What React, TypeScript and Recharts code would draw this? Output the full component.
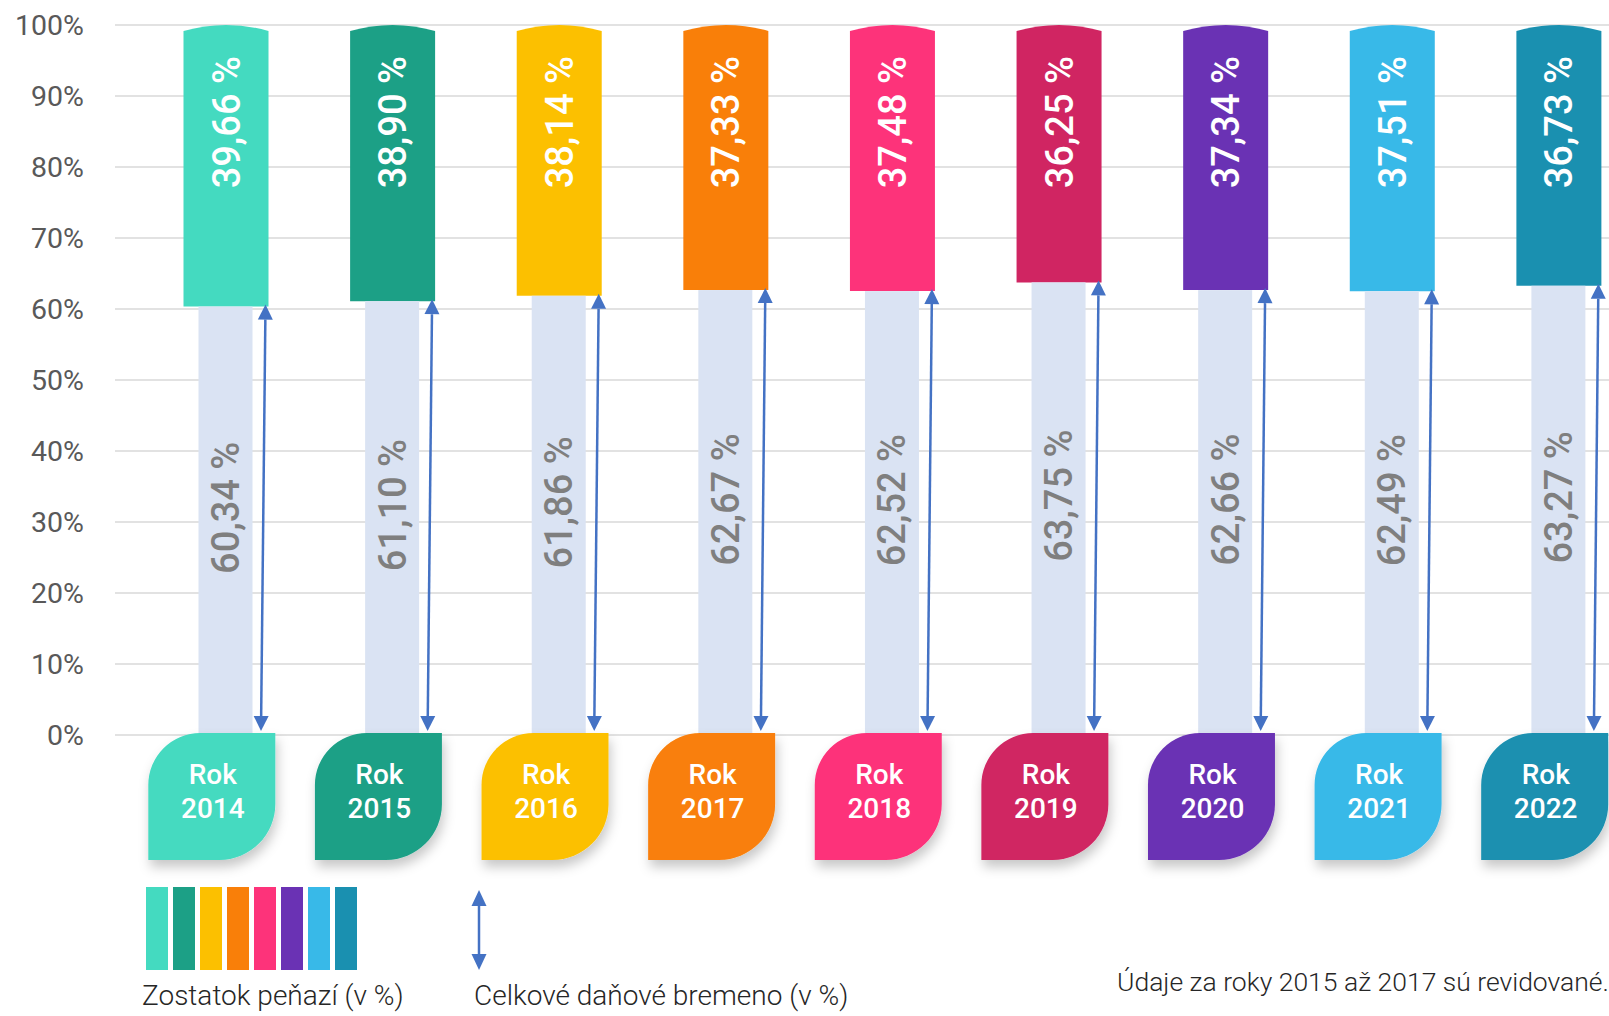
import { BarChart, Bar, XAxis, YAxis, CartesianGrid, LabelList, Cell } from 'recharts';

// values (in %)
const years = ['2014', '2015', '2016', '2017', '2018', '2019', '2020', '2021', '2022'];
const zostatok = [39.66, 38.9, 38.14, 37.33, 37.48, 36.25, 37.34, 37.51, 36.73];
const bremeno = [60.34, 61.1, 61.86, 62.67, 62.52, 63.75, 62.66, 62.49, 63.27];
const yearColors = ['#44dac0', '#1ca086', '#fcc000', '#f97f09', '#fd337a', '#d02562', '#6a32b4', '#38b9e8', '#1a90b0'];
// the legend swatch strip skips the 2019 colour
const legendColors = ['#44dac0', '#1ca086', '#fcc000', '#f97f09', '#fd337a', '#6a32b4', '#38b9e8', '#1a90b0'];
const yTicks = [0, 10, 20, 30, 40, 50, 60, 70, 80, 90, 100];

const ARROW = '#4472c4';
const GRAY_BAR = '#dae3f3';

const data = years.map((year, i) => ({
  year,
  bremeno: bremeno[i],
  zostatok: zostatok[i],
  range: [bremeno[i], bremeno[i] + zostatok[i]],
}));

const fmt = (v: number) => `${v.toFixed(2).replace('.', ',')} %`;

/** colored bar with a slightly domed top */
function CapBar(props: any) {
  const { x, y, width, height, fill } = props;
  const cap = 6;
  const d = `M${x},${y + height} L${x},${y + cap} Q${x + width / 2},${y - cap} ${x + width},${y + cap} L${x + width},${y + height} Z`;
  return <path d={d} fill={fill} />;
}

function arrowHead(tx: number, ty: number, ux: number, uy: number, len: number, half: number) {
  // tip at (tx,ty), pointing along (ux,uy)
  const bx = tx - ux * len;
  const by = ty - uy * len;
  const px = -uy;
  const py = ux;
  return `M${tx},${ty} L${bx + px * half},${by + py * half} L${bx - px * half},${by - py * half} Z`;
}

/** light bar for the tax burden plus the double-headed arrow next to it */
function BurdenBar(props: any) {
  const { x, y, width, height } = props;
  const topX = x + width + 13;
  const topY = y - 2;
  const botX = x + width + 8.5;
  const botY = y + height - 4;
  const len = Math.hypot(botX - topX, botY - topY);
  const ux = (botX - topX) / len;
  const uy = (botY - topY) / len;
  const head = 15;
  return (
    <g>
      <rect x={x} y={y} width={width} height={height} fill={GRAY_BAR} />
      <line
        x1={topX + ux * head}
        y1={topY + uy * head}
        x2={botX - ux * head}
        y2={botY - uy * head}
        stroke={ARROW}
        strokeWidth={2.5}
      />
      <path d={arrowHead(topX, topY, -ux, -uy, head, 7.5)} fill={ARROW} />
      <path d={arrowHead(botX, botY, ux, uy, head, 7.5)} fill={ARROW} />
    </g>
  );
}

function ZostatokLabel(props: any) {
  const { x, y, width, value } = props;
  const cx = x + width / 2 + 13.5;
  const cy = y + 31;
  return (
    <text
      x={cx}
      y={cy}
      transform={`rotate(-90 ${cx} ${cy})`}
      textAnchor="end"
      fill="#ffffff"
      fontSize={38}
      fontWeight={500}
    >
      {fmt(value)}
    </text>
  );
}

function BremenoLabel(props: any) {
  const { x, y, width, height, value } = props;
  const cx = x + width / 2 + 13.5;
  const cy = y + height / 2 - 13;
  return (
    <text
      x={cx}
      y={cy}
      transform={`rotate(-90 ${cx} ${cy})`}
      textAnchor="middle"
      fill="#7f7f7f"
      fontSize={38}
      fontWeight={500}
    >
      {fmt(value)}
    </text>
  );
}

/** leaf shaped "Rok 20xx" tag under each column */
function YearTag(props: any) {
  const { x, y, payload } = props;
  const i = years.indexOf(String(payload.value));
  const w = 127;
  const h = 127;
  const r1 = 52;
  const r2 = 56;
  const left = x - 14 - w / 2;
  const top = y - 32;
  const d = `M${left + r1},${top} L${left + w},${top} L${left + w},${top + h - r2} A${r2},${r2} 0 0 1 ${left + w - r2},${top + h} L${left},${top + h} L${left},${top + r1} A${r1},${r1} 0 0 1 ${left + r1},${top} Z`;
  const fid = `tagShadow${i}`;
  return (
    <g>
      <defs>
        <filter id={fid} x="-30%" y="-30%" width="160%" height="170%">
          <feDropShadow dx={2} dy={7} stdDeviation={6} floodColor="#000" floodOpacity={0.22} />
        </filter>
      </defs>
      <path d={d} fill={yearColors[i]} filter={`url(#${fid})`} />
      <text x={left + w / 2 + 1} y={top + 51} textAnchor="middle" fill="#fff" fontSize={28} fontWeight={500}>
        Rok
      </text>
      <text x={left + w / 2 + 1} y={top + 85} textAnchor="middle" fill="#fff" fontSize={28} fontWeight={500}>
        {payload.value}
      </text>
    </g>
  );
}

export default function App() {
  return (
    <div
      style={{
        position: 'absolute',
        left: 0,
        top: 0,
        width: 1609,
        height: 1016,
        overflow: 'hidden',
        background: '#fff',
        fontFamily: 'Roboto, "Noto Sans", sans-serif',
      }}
    >
      <BarChart width={1700} height={1016} data={data} margin={{ top: 25, right: 58, bottom: 81, left: 0 }}>
        <CartesianGrid vertical={false} stroke="#d9d9d9" strokeWidth={1.5} xAxisId="tag" />
        <XAxis
          xAxisId="tag"
          dataKey="year"
          padding={{ left: 27.5, right: 0 }}
          axisLine={false}
          tickLine={false}
          tickSize={0}
          tickMargin={0}
          height={200}
          interval={0}
          tick={<YearTag />}
        />
        <XAxis xAxisId="narrow" dataKey="year" padding={{ left: 27.5, right: 0 }} hide />
        <YAxis
          domain={[0, 100]}
          ticks={yTicks}
          tickFormatter={(v: number) => `${v}%`}
          axisLine={false}
          tickLine={false}
          width={115}
          tickMargin={25}
          tick={{ fill: '#595959', fontSize: 28.5 }}
        />
        <Bar xAxisId="tag" dataKey="range" barSize={85} shape={<CapBar />} isAnimationActive={false}>
          {data.map((d, i) => (
            <Cell key={d.year} fill={yearColors[i]} />
          ))}
          <LabelList dataKey="zostatok" content={<ZostatokLabel />} />
        </Bar>
        <Bar xAxisId="narrow" dataKey="bremeno" barSize={54} shape={<BurdenBar />} isAnimationActive={false}>
          <LabelList dataKey="bremeno" content={<BremenoLabel />} />
        </Bar>
      </BarChart>

      {/* legend */}
      <div style={{ position: 'absolute', left: 146, top: 887, display: 'flex', gap: 5 }}>
        {legendColors.map((c) => (
          <div key={c} style={{ width: 22, height: 83, background: c }} />
        ))}
      </div>
      <svg style={{ position: 'absolute', left: 466, top: 888 }} width={26} height={86}>
        <line x1={13} y1={17} x2={13} y2={67} stroke={ARROW} strokeWidth={2.5} />
        <path d="M13,2 L20.5,18 L5.5,18 Z" fill={ARROW} />
        <path d="M13,82 L20.5,66 L5.5,66 Z" fill={ARROW} />
      </svg>
      <div style={{ position: 'absolute', left: 142, top: 979, fontSize: 28, fontWeight: 300, color: '#262626', whiteSpace: 'nowrap' }}>
        Zostatok peňazí (v %)
      </div>
      <div style={{ position: 'absolute', left: 474, top: 979, fontSize: 28, fontWeight: 300, color: '#262626', whiteSpace: 'nowrap' }}>
        Celkové daňové bremeno (v %)
      </div>
      <div style={{ position: 'absolute', left: 1117, top: 966, fontSize: 26.5, fontWeight: 300, color: '#262626', whiteSpace: 'nowrap' }}>
        Údaje za roky 2015 až 2017 sú revidované.
      </div>
    </div>
  );
}
